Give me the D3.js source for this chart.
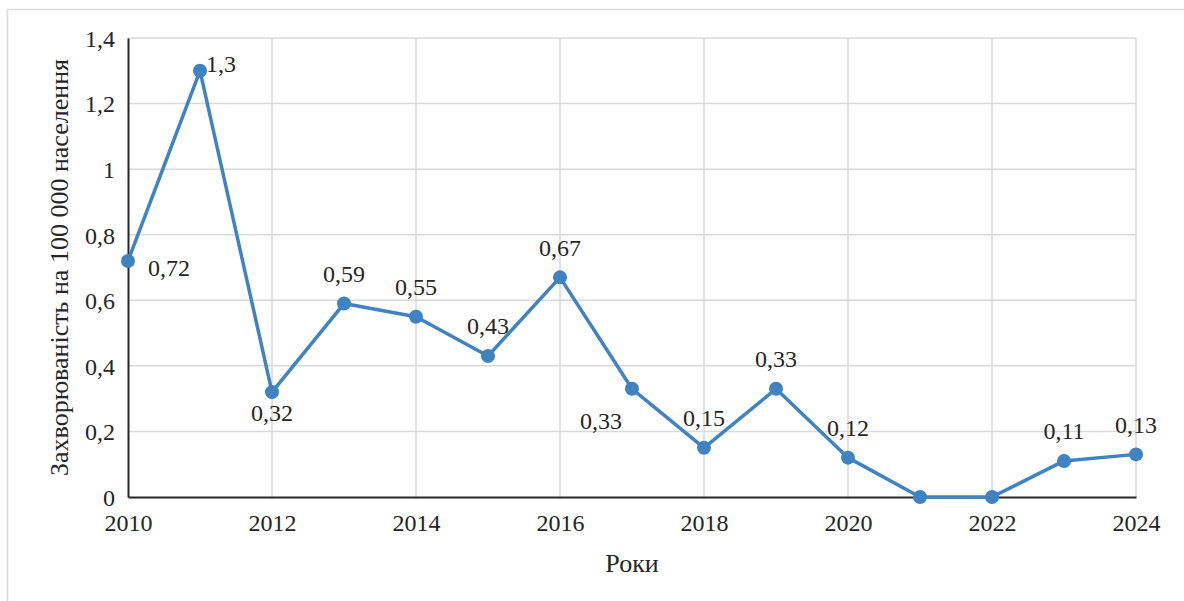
<!DOCTYPE html>
<html>
<head>
<meta charset="utf-8">
<script src="https://cdn.jsdelivr.net/npm/d3@7"></script>
<style>
  body { margin: 0; background: #fff; }
</style>
</head>
<body>
<script>
const years = [2010, 2011, 2012, 2013, 2014, 2015, 2016, 2017, 2018, 2019, 2020, 2021, 2022, 2023, 2024];
const values = [0.72, 1.3, 0.32, 0.59, 0.55, 0.43, 0.67, 0.33, 0.15, 0.33, 0.12, 0, 0, 0.11, 0.13];
const labels = ["0,72", "1,3", "0,32", "0,59", "0,55", "0,43", "0,67", "0,33", "0,15", "0,33", "0,12", "", "", "0,11", "0,13"];
// where each data label sits relative to its point
const labelPos = ["rightBelow", "right", "below", "above", "above", "above", "above", "leftBelow", "above", "above", "above", "none", "none", "above", "above"];
const xTicks = [2010, 2012, 2014, 2016, 2018, 2020, 2022, 2024];
const yTicks = [0, 0.2, 0.4, 0.6, 0.8, 1, 1.2, 1.4];

const width = 1184;
const height = 601;
const margin = {left: 128, right: 48, top: 38, bottom: 104};
const FONT = "'Liberation Serif', 'Times New Roman', serif";
const INK = "#262626";

const svg = d3.select("body")
    .append("svg")
    .attr("width", width)
    .attr("height", height);

svg.append("rect")
    .attr("x", 7.5).attr("y", 9.5)
    .attr("width", 1300).attr("height", 700)
    .attr("fill", "#fff")
    .attr("stroke", "#d9d9d9")
    .attr("stroke-width", 1.5);

const x = d3.scaleLinear().domain([2010, 2024]).range([margin.left, width - margin.right]);
const y = d3.scaleLinear().domain([0, 1.4]).range([height - margin.bottom, margin.top]);
const fmt = d => d3.format("~g")(d).replace(".", ",");

// gridlines
svg.append("g")
    .selectAll("line")
    .data(yTicks.slice(1))
    .join("line")
    .attr("x1", x(2010)).attr("x2", x(2024))
    .attr("y1", d => y(d)).attr("y2", d => y(d))
    .attr("stroke", "#d9d9d9").attr("stroke-width", 1.5);

svg.append("g")
    .selectAll("line")
    .data(xTicks.slice(1))
    .join("line")
    .attr("x1", d => x(d)).attr("x2", d => x(d))
    .attr("y1", y(0)).attr("y2", y(1.4))
    .attr("stroke", "#d9d9d9").attr("stroke-width", 1.5);

// axes
const xAxis = svg.append("g")
    .attr("transform", `translate(0,${y(0)})`)
    .call(d3.axisBottom(x).tickValues(xTicks).tickFormat(d3.format("d")).tickSize(0).tickPadding(17));
const yAxis = svg.append("g")
    .attr("transform", `translate(${x(2010)},0)`)
    .call(d3.axisLeft(y).tickValues(yTicks).tickFormat(fmt).tickSize(0).tickPadding(13));

[xAxis, yAxis].forEach(a => {
    a.attr("font-family", null).attr("font-size", null);
    a.select(".domain").attr("stroke", INK).attr("stroke-width", 2);
    a.selectAll("text")
        .style("font-family", FONT)
        .style("font-size", "24px")
        .attr("fill", INK);
});
yAxis.selectAll("text").attr("dy", "0.35em");

// line + markers
const pts = years.map((yr, i) => ({yr, v: values[i], label: labels[i], pos: labelPos[i]}));

svg.append("path")
    .datum(pts)
    .attr("fill", "none")
    .attr("stroke", "#3f83c2")
    .attr("stroke-width", 3.5)
    .attr("stroke-linejoin", "round")
    .attr("d", d3.line().x(d => x(d.yr)).y(d => y(d.v)));

svg.append("g")
    .selectAll("circle")
    .data(pts)
    .join("circle")
    .attr("cx", d => x(d.yr))
    .attr("cy", d => y(d.v))
    .attr("r", 7)
    .attr("fill", "#3f83c2");

const offsets = {
    above: {dx: 0, dy: -30, anchor: "middle"},
    below: {dx: 0, dy: 21, anchor: "middle"},
    right: {dx: 6, dy: -7, anchor: "start"},
    rightBelow: {dx: 20, dy: 7, anchor: "start"},
    leftBelow: {dx: -10, dy: 32, anchor: "end"}
};

svg.append("g")
    .selectAll("text")
    .data(pts.filter(d => d.pos !== "none"))
    .join("text")
    .attr("x", d => x(d.yr) + offsets[d.pos].dx)
    .attr("y", d => y(d.v) + offsets[d.pos].dy)
    .attr("dy", "0.35em")
    .attr("text-anchor", d => offsets[d.pos].anchor)
    .style("font-family", FONT)
    .style("font-size", "24px")
    .attr("fill", INK)
    .text(d => d.label);

// axis titles
svg.append("text")
    .attr("x", (x(2010) + x(2024)) / 2)
    .attr("y", 563)
    .attr("dy", "0.35em")
    .attr("text-anchor", "middle")
    .style("font-family", FONT)
    .style("font-size", "26px")
    .attr("fill", INK)
    .text("Роки");

svg.append("text")
    .attr("transform", `translate(59,${(y(0) + y(1.4)) / 2}) rotate(-90)`)
    .attr("dy", "0.35em")
    .attr("text-anchor", "middle")
    .style("font-family", FONT)
    .style("font-size", "26px")
    .attr("fill", INK)
    .text("Захворюваність на 100 000 населення");
</script>
</body>
</html>
